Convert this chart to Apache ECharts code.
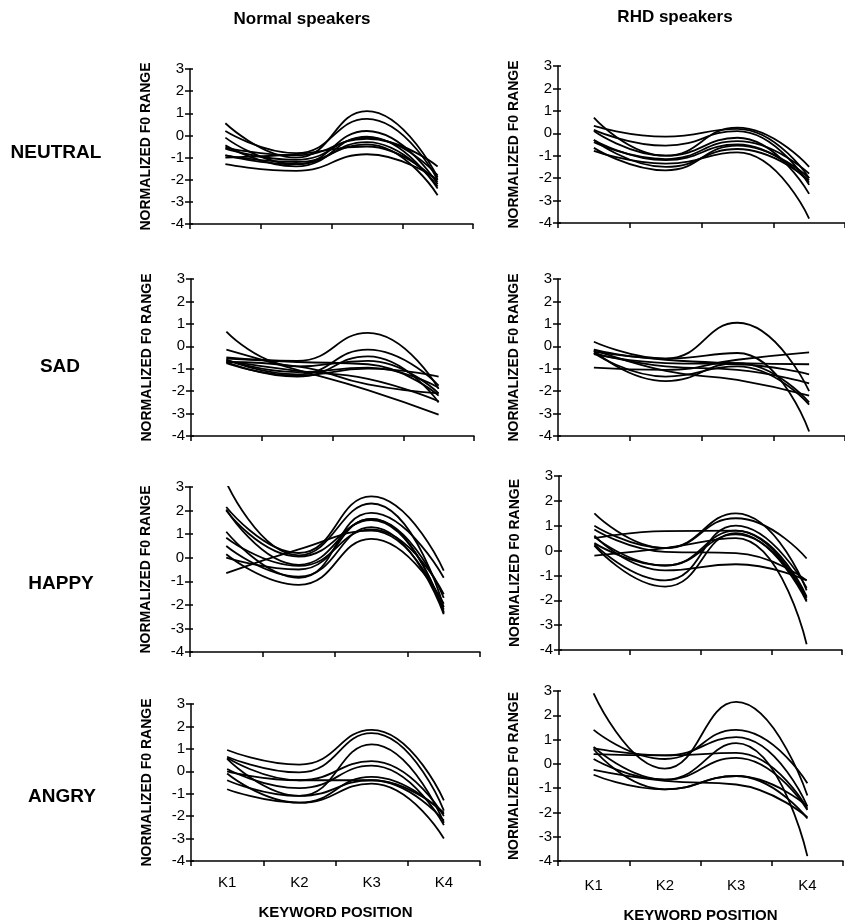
<!DOCTYPE html>
<html>
<head>
<meta charset="utf-8">
<script src="https://cdn.jsdelivr.net/npm/echarts@6/dist/echarts.min.js"></script>
<style>
  html, body { margin: 0; padding: 0; background: #fff; }
  #chart { width: 845px; height: 924px; }
</style>
</head>
<body>
<div id="chart"></div>
<script>
var categories = ['K1', 'K2', 'K3', 'K4']
var yMin = -4
var yMax = 3

// one row per speaker, values at K1..K4
var neutralNormal = [
  [0.55, -1.0, 1.1, -1.9],
  [0.2, -0.8, 0.75, -2.0],
  [-0.1, -1.3, 0.2, -2.2],
  [-0.45, -1.4, -0.05, -2.4],
  [-0.55, -0.9, -0.15, -1.4],
  [-0.9, -1.2, -0.4, -2.7],
  [-1.0, -0.85, -0.5, -2.1],
  [-1.3, -1.6, -0.85, -2.0],
  [-0.6, -1.1, -0.1, -1.8],
  [-0.9, -1.3, -0.3, -2.3]
]
var neutralRhd = [
  [0.7, -1.0, 0.25, -1.5],
  [0.33, -0.15, 0.2, -2.0],
  [0.15, -0.55, 0.1, -2.3],
  [-0.3, -1.5, -0.7, -2.1],
  [-0.4, -1.15, -0.35, -1.8],
  [-0.65, -1.65, -0.55, -2.0],
  [-0.78, -1.35, -0.85, -3.8],
  [0.1, -1.0, -0.2, -2.7],
  [-0.3, -1.2, -0.5, -2.2]
]
var sadNormal = [
  [0.65, -0.9, -0.65, -2.1],
  [-0.15, -1.05, -1.95, -3.05],
  [-0.5, -0.65, 0.6, -1.9],
  [-0.6, -1.25, -0.15, -1.75],
  [-0.7, -1.35, -0.45, -2.5],
  [-0.55, -0.7, -0.8, -2.2],
  [-0.75, -1.3, -1.0, -1.35],
  [-0.65, -1.1, -1.45, -2.45],
  [-0.6, -1.15, -0.95, -1.85],
  [-0.7, -0.9, -1.7, -2.1]
]
var sadRhd = [
  [0.2, -0.55, 1.05, -2.0],
  [-0.15, -0.55, -0.3, -3.8],
  [-0.2, -1.55, -0.75, -2.5],
  [-0.3, -1.35, -0.9, -2.6],
  [-0.25, -0.6, -0.75, -0.8],
  [-0.35, -0.75, -0.8, -1.25],
  [-0.15, -1.1, -1.5, -2.2],
  [-0.95, -1.05, -0.6, -0.27],
  [-0.3, -0.9, -1.05, -1.65]
]
var happyNormal = [
  [3.2, 0.1, 2.3, -2.1],
  [2.15, 0.2, 2.6, -0.55],
  [2.05, -0.3, 1.65, -2.3],
  [1.1, -0.85, 1.9, -0.85],
  [0.85, -0.35, 1.2, -1.55],
  [0.5, -0.8, 1.3, -2.4],
  [0.15, -1.15, 0.8, -1.95],
  [0.0, -0.5, 1.65, -1.7],
  [-0.65, 0.35, 1.15, -2.2],
  [2.0, 0.05, 1.6, -2.35]
]
var happyRhd = [
  [1.5, 0.1, 1.5, -1.6],
  [1.0, 0.1, 1.3, -0.32],
  [0.85, -0.05, -0.1, -1.2],
  [0.55, -0.6, 0.8, -2.0],
  [0.5, 0.78, 0.8, -1.85],
  [0.25, -1.2, 1.0, -1.5],
  [0.2, -1.45, 0.7, -2.05],
  [-0.2, 0.1, 0.5, -3.77],
  [0.6, -0.8, -0.55, -1.2],
  [0.3, -0.6, 0.65, -1.9]
]
var angryNormal = [
  [0.95, 0.3, 1.85, -1.3],
  [0.65, -0.05, 1.7, -1.75],
  [0.55, -1.1, 1.2, -2.3],
  [0.6, -0.4, 0.45, -2.0],
  [0.1, -0.75, 0.25, -2.4],
  [-0.1, -1.4, -0.25, -1.9],
  [-0.4, -1.1, -0.4, -2.2],
  [-0.8, -1.4, -0.55, -3.0],
  [0.0, -0.4, -0.4, -1.85]
]
var angryRhd = [
  [2.9, -0.2, 2.55, -1.3],
  [1.4, 0.2, 1.4, -0.8],
  [0.65, 0.35, 1.1, -1.75],
  [0.7, -0.65, 0.85, -3.8],
  [0.4, 0.35, 0.45, -1.85],
  [0.2, -0.65, 0.25, -1.9],
  [0.6, -1.05, -0.5, -2.25],
  [-0.25, -0.7, -0.85, -2.2],
  [-0.45, -1.05, -0.5, -1.75]
]

var rowLabels = ['NEUTRAL', 'SAD', 'HAPPY', 'ANGRY']
var colTitles = ['Normal speakers', 'RHD speakers']

// panel order: row by row, left then right
var panels = [
  { data: neutralNormal, left: 190, top: 69, width: 283, height: 155 },
  { data: neutralRhd, left: 558, top: 66, width: 290, height: 157 },
  { data: sadNormal, left: 191, top: 279, width: 283, height: 157 },
  { data: sadRhd, left: 558, top: 279, width: 293, height: 157 },
  { data: happyNormal, left: 190, top: 487, width: 290, height: 165 },
  { data: happyRhd, left: 559, top: 476, width: 283, height: 174 },
  { data: angryNormal, left: 191, top: 704, width: 289, height: 157, bottom: true, labelGap: 14, nameGap: 44 },
  { data: angryRhd, left: 558, top: 691, width: 285, height: 173, bottom: true, labelGap: 17, nameGap: 47 }
]

var font = 'Liberation Sans, Arial, sans-serif'
var grid = []
var xAxis = []
var yAxis = []
var series = []

panels.forEach(function (p, i) {
  grid.push({ left: p.left, top: p.top, width: p.width, height: p.height })
  xAxis.push({
    type: 'category',
    gridIndex: i,
    data: categories,
    boundaryGap: true,
    axisLine: { onZero: false, lineStyle: { color: '#000', width: 1.5 } },
    axisTick: { show: true, length: 5, lineStyle: { color: '#000', width: 1.5 } },
    axisLabel: { show: !!p.bottom, color: '#000', fontSize: 15, fontFamily: font, margin: p.labelGap || 14 },
    name: p.bottom ? 'KEYWORD POSITION' : '',
    nameLocation: 'middle',
    nameGap: p.nameGap || 44,
    nameTextStyle: { color: '#000', fontSize: 15, fontWeight: 'bold', fontFamily: font },
    splitLine: { show: false }
  })
  yAxis.push({
    type: 'value',
    gridIndex: i,
    min: yMin,
    max: yMax,
    interval: 1,
    axisLine: { show: true, lineStyle: { color: '#000', width: 1.5 } },
    axisTick: { show: true, length: 5, lineStyle: { color: '#000', width: 1.5 } },
    axisLabel: { color: '#000', fontSize: 15, fontFamily: font, margin: 6 },
    splitLine: { show: false },
    name: 'NORMALIZED F0 RANGE',
    nameLocation: 'middle',
    nameRotate: 90,
    nameGap: 37,
    nameTextStyle: { color: '#000', fontSize: 14, fontWeight: 'bold', fontFamily: font }
  })
  p.data.forEach(function (vals) {
    series.push({
      type: 'line',
      xAxisIndex: i,
      yAxisIndex: i,
      data: vals,
      smooth: 0.5,
      symbol: 'none',
      silent: true,
      lineStyle: { color: '#000', width: 1.8 }
    })
  })
})

// second y axis per panel only for the inner half of the crossing ticks
panels.forEach(function (p, i) {
  yAxis.push({
    type: 'value',
    gridIndex: i,
    position: 'left',
    min: yMin,
    max: yMax,
    interval: 1,
    axisLine: { show: false },
    axisTick: { show: true, inside: true, length: 3, lineStyle: { color: '#000', width: 1.5 } },
    axisLabel: { show: false },
    splitLine: { show: false }
  })
})

var graphic = [
  { type: 'text', x: 302, y: 19, style: { text: colTitles[0], font: 'bold 17px ' + font, fill: '#000', textAlign: 'center', textVerticalAlign: 'middle' } },
  { type: 'text', x: 675, y: 17, style: { text: colTitles[1], font: 'bold 17px ' + font, fill: '#000', textAlign: 'center', textVerticalAlign: 'middle' } }
]
var rowX = [56, 60, 61, 62]
var rowY = [153, 367, 584, 797]
rowLabels.forEach(function (t, i) {
  graphic.push({ type: 'text', x: rowX[i], y: rowY[i], style: { text: t, font: 'bold 19px ' + font, fill: '#000', textAlign: 'center', textVerticalAlign: 'middle' } })
})

var myChart = echarts.init(document.getElementById('chart'), null, { renderer: 'canvas' })
myChart.setOption({
  animation: false,
  backgroundColor: '#fff',
  grid: grid,
  xAxis: xAxis,
  yAxis: yAxis,
  series: series,
  graphic: graphic
})
</script>
</body>
</html>
